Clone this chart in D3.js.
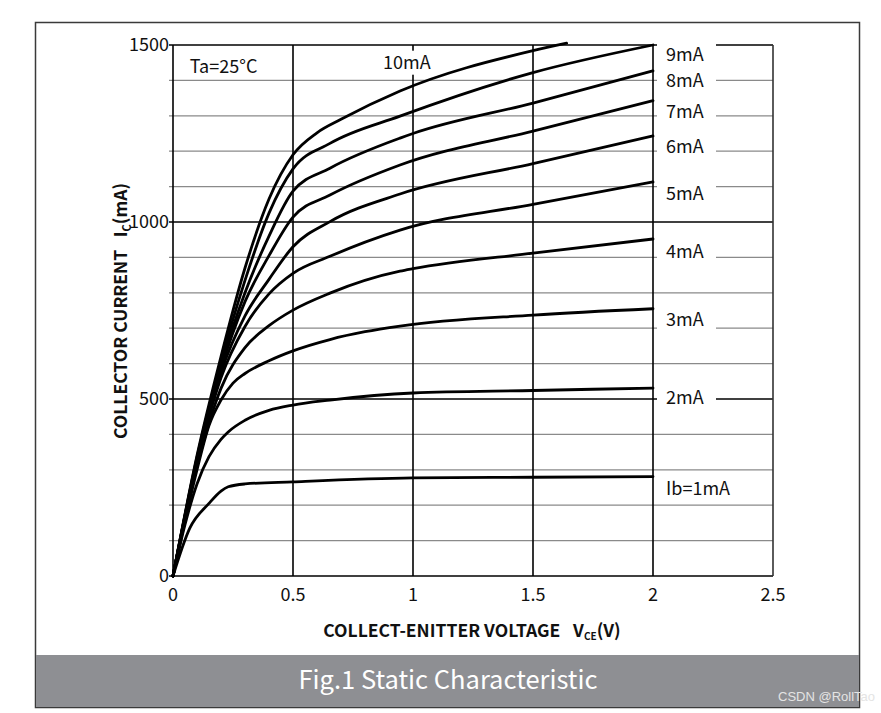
<!DOCTYPE html>
<meta charset="utf-8">
<title>Fig.1 Static Characteristic</title>
<body style="margin:0;background:#fff">
<svg width=881 height=713></svg>
<script src="https://d3js.org/d3.v7.min.js"></script>
<script>
    // curves, [Vce (V), Ic (mA)]
    const ib1  = [[0,0],[0.07,135],[0.15,205],[0.2,240],[0.23,252],[0.3,260],[0.5,266],[1,277],[1.5,279],[2,281]];
    const ib2  = [[0,0],[0.05,145],[0.1,260],[0.15,337],[0.2,386],[0.23,407],[0.3,440],[0.4,468],[0.5,483],[0.654,497],[1,517],[1.5,524],[2,531]];
    const ib3  = [[0,0],[0.1,300],[0.15,425],[0.2,497],[0.25,545],[0.3,572],[0.4,608],[0.5,636],[0.654,668],[0.8,690],[0.946,706],[1.5,737],[2,755]];
    const ib4  = [[0,0],[0.1,310],[0.2,530],[0.3,645],[0.4,707],[0.5,751],[0.654,799],[0.946,861],[1,868],[1.5,912],[2,952]];
    const ib5  = [[0,0],[0.1,318],[0.2,560],[0.3,705],[0.4,797],[0.5,855],[0.654,903],[0.946,977],[1.5,1050],[2,1113]];
    const ib6  = [[0,0],[0.1,322],[0.2,575],[0.3,735],[0.4,838],[0.5,930],[0.654,1001],[0.946,1079],[1.5,1165],[2,1243]];
    const ib7  = [[0,0],[0.1,326],[0.2,585],[0.3,775],[0.4,905],[0.5,1014],[0.654,1076],[0.946,1161],[1.5,1257],[2,1343]];
    const ib8  = [[0,0],[0.1,330],[0.2,595],[0.3,800],[0.4,960],[0.5,1087],[0.654,1152],[0.946,1237],[1,1250],[1.5,1336],[2,1427]];
    const ib9  = [[0,0],[0.1,335],[0.2,605],[0.3,835],[0.4,1025],[0.5,1150],[0.654,1222],[0.946,1299],[1.5,1422],[2,1500]];
    const ib10 = [[0,0],[0.1,340],[0.2,620],[0.3,870],[0.4,1065],[0.5,1190],[0.6,1252],[0.7,1290],[0.946,1370],[1.5,1484],[1.64,1505]];

    const curves = [ib1, ib2, ib3, ib4, ib5, ib6, ib7, ib8, ib9, ib10];
    const curveNames = ['Ib=1mA','2mA','3mA','4mA','5mA','6mA','7mA','8mA','9mA','10mA'];
    // where each name sits (mA), the last one is drawn inside the plot
    const nameAt = [246, 503, 723, 915, 1079, 1212, 1311, 1398, 1472, 1450];

    const xTicks = [0, 0.5, 1, 1.5, 2, 2.5];
    const yTicks = [0, 500, 1000, 1500];
    const yMinor = d3.range(0, 1501, 100);

    const svg = d3.select('svg');
    const font = '"Noto Sans CJK SC", "Noto Sans", sans-serif';

    const x = d3.scaleLinear().domain([0, 2.5]).range([173, 773]);
    const y = d3.scaleLinear().domain([0, 1500]).range([576, 45]);

    // outer frame + caption band
    svg.append('rect').attr('x', 35.5).attr('y', 22.5).attr('width', 824).attr('height', 685)
        .attr('fill', '#fff').attr('stroke', '#3a3a3a').attr('stroke-width', 1.5);
    svg.append('rect').attr('x', 36).attr('y', 655).attr('width', 823).attr('height', 52)
        .attr('fill', '#8e8f93');
    svg.append('text').attr('x', 448).attr('y', 689).attr('text-anchor', 'middle')
        .attr('font-family', font).attr('font-size', 25.5).attr('fill', '#fff')
        .text('Fig.1 Static Characteristic');

    const plot = svg.append('g');

    // grid
    plot.selectAll('.hminor').data(yMinor).enter().append('line')
        .attr('x1', x(0) - 4).attr('x2', x(2.5))
        .attr('y1', d => y(d)).attr('y2', d => y(d))
        .attr('stroke', d => d % 500 === 0 ? '#000' : '#8a8a8a')
        .attr('stroke-width', d => d % 500 === 0 ? 1.5 : 1.3);
    plot.selectAll('.vmajor').data(xTicks).enter().append('line')
        .attr('x1', d => x(d)).attr('x2', d => x(d))
        .attr('y1', y(0)).attr('y2', y(1500))
        .attr('stroke', d => d === 2.5 ? '#333' : '#000').attr('stroke-width', 1.6);

    // curves
    const line = d3.line().x(d => x(d[0])).y(d => y(d[1])).curve(d3.curveMonotoneX);
    plot.selectAll('.curve').data(curves).enter().append('path')
        .attr('d', line).attr('fill', 'none')
        .attr('stroke', '#000').attr('stroke-width', 2.8)
        .attr('stroke-linejoin', 'round').attr('stroke-linecap', 'round');

    // curve names, white boxes knock out the grid behind them
    const names = plot.selectAll('.name').data(curveNames).enter().append('g')
        .attr('transform', (d, i) => i === 9 ? `translate(${x(0.875)},${y(nameAt[i])})`
                                             : `translate(${x(2) + 13},${y(nameAt[i])})`);
    names.append('rect').attr('x', -9).attr('y', -12).attr('height', 24)
        .attr('width', (d, i) => i === 0 ? 84 : 59).attr('fill', '#fff');
    names.append('text').attr('dy', '0.35em')
        .attr('font-family', font).attr('font-size', 18).attr('fill', '#111')
        .text(d => d);

    plot.append('text').attr('x', x(0.07)).attr('y', y(1438)).attr('dy', '0.35em')
        .attr('font-family', font).attr('font-size', 18).attr('fill', '#111')
        .text('Ta=25°C');

    // axes text
    plot.selectAll('.xt').data(xTicks).enter().append('text')
        .attr('x', d => x(d)).attr('y', 601).attr('text-anchor', 'middle')
        .attr('font-family', font).attr('font-size', 18).attr('fill', '#111')
        .text(d => d);
    plot.selectAll('.yt').data(yTicks).enter().append('text')
        .attr('x', x(0) - 4).attr('y', d => y(d)).attr('dy', '0.35em').attr('text-anchor', 'end')
        .attr('font-family', font).attr('font-size', 18).attr('fill', '#111')
        .text(d => d);

    const xl = svg.append('text').attr('x', 472).attr('y', 637).attr('text-anchor', 'middle')
        .attr('font-family', font).attr('font-size', 17.5).attr('font-weight', 'bold').attr('fill', '#111');
    xl.append('tspan').text('COLLECT-ENITTER VOLTAGE\u2002 V');
    xl.append('tspan').attr('font-size', 10).attr('dy', 3).text('CE');
    xl.append('tspan').attr('dy', -3).text('(V)');

    const yl = svg.append('text').attr('transform', 'translate(127,311) rotate(-90)')
        .attr('text-anchor', 'middle')
        .attr('font-family', font).attr('font-size', 17.5).attr('font-weight', 'bold').attr('fill', '#111');
    yl.append('tspan').text('COLLECTOR CURRENT\u2002 I');
    yl.append('tspan').attr('font-size', 11).attr('dy', 4).text('C');
    yl.append('tspan').attr('dy', -4).text('(mA)');

    svg.append('text').attr('x', 875).attr('y', 701).attr('text-anchor', 'end')
        .attr('font-family', '"Liberation Sans", sans-serif').attr('font-size', 13).attr('fill', '#e4e4e4')
        .text('CSDN @RollTao');
</script>
